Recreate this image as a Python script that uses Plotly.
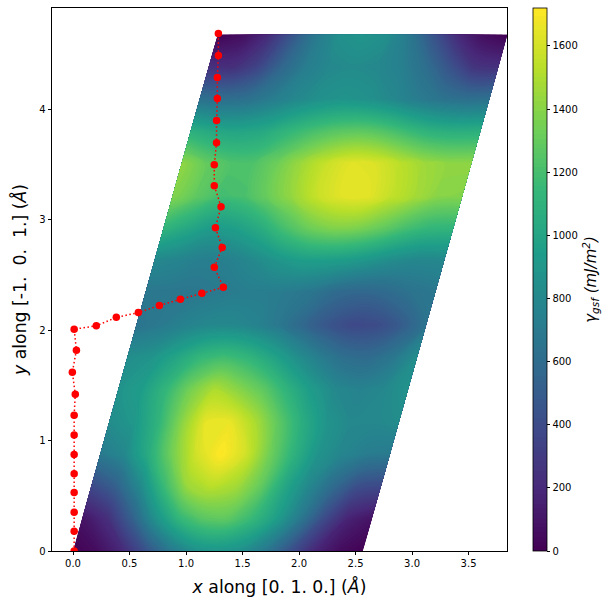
import plotly.graph_objects as go

# Lattice frame of the surface (Angstrom)
period_x = 2.565
shift_x = 1.28
period_y = 4.68
a_frac = [i / 12 for i in range(13)]
b_frac = [j / 16 for j in range(17)]

# Energy, rows follow b_frac, columns follow a_frac
gsf = [
    [0, 60, 190, 430, 680, 850, 890, 850, 680, 430, 190, 60, 0],
    [90, 220, 500, 850, 1120, 1260, 1280, 1150, 960, 700, 400, 170, 90],
    [380, 520, 800, 1150, 1450, 1530, 1470, 1300, 1020, 800, 600, 420, 380],
    [700, 800, 1050, 1350, 1600, 1720, 1600, 1340, 1100, 880, 780, 720, 700],
    [830, 900, 1100, 1400, 1650, 1660, 1500, 1280, 1060, 880, 800, 800, 830],
    [870, 950, 1130, 1350, 1500, 1400, 1280, 1100, 930, 800, 760, 800, 870],
    [840, 880, 1000, 1130, 1180, 1120, 1000, 850, 720, 620, 600, 680, 840],
    [660, 700, 760, 800, 800, 760, 680, 560, 450, 380, 400, 500, 660],
    [680, 680, 680, 700, 720, 720, 700, 660, 580, 560, 590, 650, 680],
    [800, 770, 730, 740, 800, 880, 940, 950, 930, 880, 820, 790, 800],
    [1120, 1020, 930, 960, 1050, 1200, 1320, 1380, 1370, 1300, 1200, 1130, 1120],
    [1390, 1280, 1190, 1210, 1320, 1440, 1570, 1640, 1650, 1560, 1480, 1400, 1390],
    [1420, 1300, 1230, 1230, 1330, 1460, 1570, 1640, 1620, 1540, 1460, 1420, 1420],
    [1080, 1020, 1000, 1030, 1120, 1200, 1260, 1280, 1240, 1160, 1090, 1070, 1080],
    [640, 620, 640, 720, 800, 860, 880, 860, 800, 720, 660, 630, 640],
    [240, 230, 350, 560, 720, 800, 820, 800, 740, 620, 440, 260, 240],
    [0, 60, 190, 430, 680, 850, 890, 850, 680, 430, 190, 60, 0],
]

# Minimum energy path
path_x = [0.01, 0.01, 0.01, 0.01, 0.01, 0.01, 0.01, 0.01, 0.02, -0.006, 0.03, 0.01,
          0.206, 0.383, 0.578, 0.764, 0.95, 1.14, 1.33,
          1.25, 1.32, 1.26, 1.31, 1.25, 1.25, 1.27, 1.27, 1.277, 1.277, 1.286, 1.286]
path_y = [0.0, 0.178, 0.35, 0.53, 0.70, 0.875, 1.05, 1.23, 1.42, 1.62, 1.82, 2.01,
          2.04, 2.117, 2.16, 2.225, 2.28, 2.335, 2.39,
          2.57, 2.75, 2.93, 3.12, 3.31, 3.50, 3.70, 3.90, 4.10, 4.29, 4.49, 4.69]

grid_x = [[a * period_x + b * shift_x for a in a_frac] for b in b_frac]
grid_y = [[b * period_y for a in a_frac] for b in b_frac]

W, H = 613, 605
L, R, T, B = 52, 507, 8, 551
FONT = "DejaVu Sans"
hidden = dict(showgrid=False, showline=False, startline=False, endline=False,
              showticklabels="none", minorgridcount=0, gridwidth=0,
              gridcolor="rgba(0,0,0,0)")

fig = go.Figure()
fig.add_trace(go.Carpet(carpet="c", a=a_frac, b=b_frac, x=grid_x, y=grid_y,
                        aaxis=hidden, baxis=hidden))
fig.add_trace(go.Contourcarpet(
    carpet="c", a=a_frac, b=b_frac, z=gsf, colorscale="Viridis", zmin=0, zmax=1720,
    autocontour=False,
    contours=dict(start=0, end=1720, size=15, coloring="fill", showlines=False),
    line=dict(width=0),
    colorbar=dict(
        x=533 / W, xanchor="left", xpad=0, ypad=0, thickness=14, thicknessmode="pixels",
        len=(B - T) / H, lenmode="fraction", y=(H - B) / H, yanchor="bottom",
        tickmode="array", tickvals=list(range(0, 1601, 200)),
        ticks="outside", ticklen=3.5, tickwidth=0.8, tickcolor="black",
        outlinecolor="black", outlinewidth=0.8,
        tickfont=dict(family=FONT, size=10, color="black"),
        title=dict(text="<i>γ<sub>gsf</sub> (mJ/m<sup>2</sup>)</i>", side="right",
                   font=dict(family=FONT, size=15, color="black")),
    ),
))
fig.add_trace(go.Scatter(
    x=path_x, y=path_y, mode="lines+markers",
    line=dict(color="red", dash="1.5px,2.5px", width=1.5),
    marker=dict(color="red", size=7.5), showlegend=False,
))
axis = dict(showgrid=False, zeroline=False, showline=True, mirror=True, linecolor="black",
            linewidth=0.8, ticks="outside", ticklen=3.5, tickwidth=0.8, tickcolor="black",
            tickfont=dict(family=FONT, size=10, color="black"))
fig.update_layout(
    width=W, height=H, margin=dict(l=0, r=0, t=0, b=0, autoexpand=False),
    paper_bgcolor="white", plot_bgcolor="white", showlegend=False,
    xaxis=dict(axis, domain=[L / W, R / W], range=[-0.186, 3.84], dtick=0.5, tick0=0,
               tickformat=".1f",
               title=dict(text="<i>x</i> along [0. 1. 0.] (<i>Å</i>)", standoff=12,
                          font=dict(family=FONT, size=17.3, color="black"))),
    yaxis=dict(axis, domain=[(H - B) / H, (H - T) / H], range=[0, 4.92], dtick=1, tick0=0,
               title=dict(text="<i>y</i> along [-1.  0.  1.] (<i>Å</i>)", standoff=8,
                          font=dict(family=FONT, size=17.3, color="black"))),
)
fig.write_html("out.html", config=dict(displayModeBar=False),
               post_script="document.body.style.margin='0';")
